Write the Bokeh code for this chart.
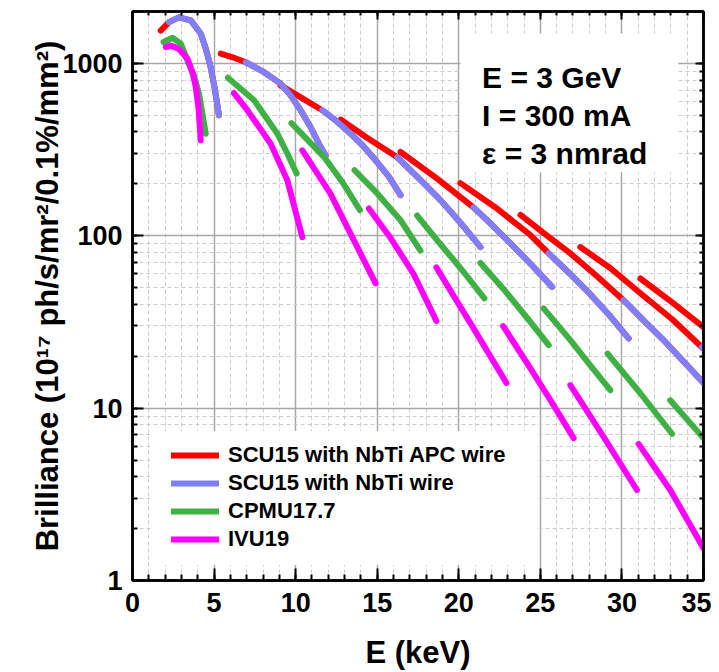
from bokeh.plotting import figure
from bokeh.models import (Range1d, LinearAxis, LogAxis, SingleIntervalTicker, LogTicker,
                          PrintfTickFormatter, CustomJSTickFormatter, Legend, LegendItem,
                          BoxAnnotation, Label)
from bokeh.embed import file_html
from bokeh.resources import INLINE

FONT = "Liberation Sans"

# ---------------- data (E in keV, brilliance in 1e17 units) ----------------
# SCU15 with NbTi APC wire (one list per harmonic segment)
APC_E = [
    [1.73, 2.24, 2.85, 3.57, 4.18, 4.49, 4.79, 5.04, 5.30],
    [5.41, 6.14, 6.94, 7.98, 9.08, 9.69, 10.31, 10.92, 11.53, 11.84],
    [9.08, 10.31, 11.63, 12.51, 13.37, 14.10, 14.90, 15.70, 16.43],
    [12.76, 14.35, 16.23, 17.55, 18.88, 20.10, 21.33],
    [16.43, 18.57, 20.90, 22.06, 23.29, 24.51, 25.72],
    [20.10, 22.25, 24.39, 25.51, 26.78, 28.06, 29.23, 30.41],
    [23.78, 25.31, 26.84, 28.49, 30.10, 31.31, 32.66, 33.88, 35.0],
    [27.45, 29.28, 31.13, 33.08, 35.0],
    [31.13, 33.08, 35.0],
]
APC_B = [
    [1550, 1735, 1850, 1775, 1490, 1220, 950, 715, 500],
    [1140, 1085, 1015, 900, 763, 652, 535, 426, 327, 293],
    [745, 635, 535, 462, 391, 335, 274, 221, 172],
    [472, 372, 285, 215, 161, 119, 86],
    [306, 218, 146, 115, 88, 67, 50.5],
    [202, 146, 101, 79, 60.6, 45.8, 34.6, 25.4],
    [132, 102, 79, 58, 42.3, 32.4, 24.2, 18.2, 14.0],
    [86, 65, 46.4, 32.8, 22.1],
    [56.5, 41.1, 29.5],
]

# SCU15 with NbTi wire
NBTI_E = [
    [2.24, 2.85, 3.57, 4.18, 4.49, 4.79, 5.04, 5.30],
    [6.94, 7.98, 9.08, 9.69, 10.31, 10.92, 11.53, 11.84],
    [11.63, 12.51, 13.37, 14.10, 14.90, 15.70, 16.43],
    [16.23, 17.55, 18.88, 20.10, 21.33],
    [20.90, 22.06, 23.29, 24.51, 25.72],
    [25.51, 26.78, 28.06, 29.23, 30.41],
    [30.10, 31.31, 32.66, 33.88, 35.0],
    [34.90, 35.0],
]
NBTI_B = [
    [1735, 1850, 1775, 1490, 1220, 950, 715, 500],
    [1015, 900, 763, 652, 535, 426, 327, 293],
    [535, 462, 391, 335, 274, 221, 172],
    [285, 215, 161, 119, 86],
    [146, 115, 88, 67, 50.5],
    [79, 60.6, 45.8, 34.6, 25.4],
    [42.3, 32.4, 24.2, 18.2, 14.0],
    [22.6, 22.1],
]

# CPMU17.7
CPMU_E = [
    [1.90, 2.45, 2.96, 3.37, 3.77, 4.08, 4.49],
    [5.85, 7.45, 8.88, 9.49, 10.06],
    [9.74, 11.73, 12.86, 13.94],
    [13.61, 15.00, 16.43, 17.65],
    [17.45, 18.68, 20.10, 21.57],
    [21.33, 22.86, 24.39, 25.51],
    [25.20, 26.84, 28.06, 29.29],
    [29.12, 31.13, 33.07],
    [32.96, 35.0],
]
CPMU_B = [
    [1330, 1409, 1301, 1040, 851, 667, 391],
    [826, 611, 391, 300, 230],
    [450, 287, 205, 141],
    [240, 176, 123, 82],
    [131, 94, 65, 43.3],
    [69.5, 47.6, 31.6, 23.2],
    [37.9, 24.8, 17.7, 12.7],
    [20.7, 12.2, 7.1],
    [11.1, 6.7],
]

# IVU19
IVU_E = [
    [2.04, 2.35, 2.84, 3.37, 3.69, 3.88, 4.06, 4.18],
    [6.22, 7.04, 8.47, 9.49, 10.41],
    [10.41, 12.14, 13.57, 14.90],
    [14.49, 15.82, 17.23, 18.63],
    [18.63, 19.67, 20.72, 22.92],
    [22.72, 24.39, 25.73, 27.04],
    [26.84, 28.88, 30.92],
    [31.02, 32.96, 35.0],
]
IVU_B = [
    [1243, 1271, 1213, 1065, 875, 729, 534, 358],
    [673, 535, 342, 210, 98],
    [313, 175, 94, 52.9],
    [144, 97, 60, 32],
    [65.5, 45, 31, 14.0],
    [29.9, 17, 10.7, 6.7],
    [13.6, 6.8, 3.35],
    [6.2, 3.35, 1.54],
]

SERIES = [
    ("SCU15 with NbTi APC wire", APC_E, APC_B, "#ff0000"),
    ("SCU15 with NbTi wire", NBTI_E, NBTI_B, "#8080ff"),
    ("CPMU17.7", CPMU_E, CPMU_B, "#3fb043"),
    ("IVU19", IVU_E, IVU_B, "#ff00ff"),
]

ANNOT_TEXT = ["E = 3 GeV", "I = 300 mA", "\u03b5 = 3 nmrad"]
ANNOT_Y = [826, 500, 302]

# ---------------- figure ----------------
p = figure(width=711, height=672, x_range=Range1d(0, 35), y_range=Range1d(1, 2000),
           y_axis_type="log", output_backend="svg", toolbar_location=None,
           min_border_left=132, min_border_right=8, min_border_top=11, min_border_bottom=91)
p.background_fill_color = "white"
p.border_fill_color = "white"
p.outline_line_color = "black"
p.outline_line_width = 2.5

xt = SingleIntervalTicker(interval=5, num_minor_ticks=5)
yt = LogTicker(num_minor_ticks=10)
p.xaxis.ticker = xt
p.yaxis.ticker = yt
p.xgrid.ticker = xt
p.ygrid.ticker = yt

for g in (p.xgrid[0], p.ygrid[0]):
    g.grid_line_color = "#a8a8a8"
    g.grid_line_width = 1.5
    g.minor_grid_line_color = "#cccccc"
    g.minor_grid_line_dash = "4 3"
    g.minor_grid_line_width = 1


def style_axis(ax, maj_in, min_in):
    ax.axis_line_width = 2.5
    ax.axis_line_color = "black"
    ax.major_tick_in = maj_in
    ax.major_tick_out = 0
    ax.minor_tick_in = min_in
    ax.minor_tick_out = 0
    ax.major_tick_line_width = 2
    ax.minor_tick_line_width = 2
    ax.major_tick_line_color = "black"
    ax.minor_tick_line_color = "black"


xa = p.xaxis[0]
style_axis(xa, 12, 6)
xa.major_label_text_font = FONT
xa.major_label_text_font_size = "27px"
xa.major_label_text_font_style = "bold"
xa.major_label_text_color = "black"
xa.major_label_standoff = 12
xa.axis_label = "E (keV)"
xa.axis_label_text_font = FONT
xa.axis_label_text_font_size = "31px"
xa.axis_label_text_font_style = "bold"
xa.axis_label_text_color = "black"
xa.axis_label_standoff = 20

ya = p.yaxis[0]
style_axis(ya, 11, 5)
ya.formatter = PrintfTickFormatter(format="%d")
ya.major_label_text_font = FONT
ya.major_label_text_font_size = "27px"
ya.major_label_text_font_style = "bold"
ya.major_label_text_color = "black"
ya.major_label_standoff = 10
ya.axis_label = "Brilliance (10\u00b9\u2077 ph/s/mr\u00b2/0.1%/mm\u00b2)"
ya.axis_label_text_font = FONT
ya.axis_label_text_font_size = "31px"
ya.axis_label_text_font_style = "bold"
ya.axis_label_text_color = "black"
ya.axis_label_standoff = -6

top_ax = LinearAxis(ticker=xt, formatter=CustomJSTickFormatter(code="return ''"),
                    major_label_standoff=0)
style_axis(top_ax, 8, 4)
p.add_layout(top_ax, "above")
right_ax = LogAxis(ticker=yt, formatter=CustomJSTickFormatter(code="return ''"),
                   major_label_standoff=0)
style_axis(right_ax, 8, 4)
p.add_layout(right_ax, "right")

# white backgrounds for the legend and the annotation block
p.add_layout(BoxAnnotation(left=1.09, right=24.8, bottom=1.23, top=7.36,
                           fill_color="white", fill_alpha=1, line_color=None, level="glyph"))
p.add_layout(BoxAnnotation(left=20.1, right=33.45, bottom=233.5, top=1493,
                           fill_color="white", fill_alpha=1, line_color=None, level="glyph"))

items = []
for name, xs, ys, color in SERIES:
    r = p.multi_line(xs=xs, ys=ys, line_color=color, line_width=6,
                     line_cap="round", line_join="round")
    items.append(LegendItem(label=name, renderers=[r]))

legend = Legend(items=items, location=(39, 28), orientation="vertical",
                glyph_width=48, glyph_height=24, label_height=24, label_standoff=9,
                spacing=2, padding=5, margin=0,
                label_text_font=FONT, label_text_font_size="22px",
                label_text_font_style="bold", label_text_color="black",
                background_fill_alpha=0, border_line_color=None)
p.add_layout(legend)

for txt, yv in zip(ANNOT_TEXT, ANNOT_Y):
    p.add_layout(Label(x=21.43, y=yv, text=txt, text_font=FONT, text_font_size="30px",
                       text_font_style="bold", text_color="black",
                       text_baseline="alphabetic", text_align="left"))

open("out.html", "w").write(file_html(p, INLINE))
